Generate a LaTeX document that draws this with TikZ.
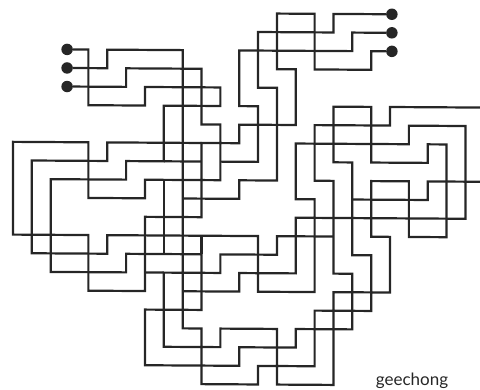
\documentclass[tikz,border=0pt]{standalone}
\usepackage{fontspec}
\setsansfont{Lato}
\begin{document}
\begin{tikzpicture}[
  % Grid of the wires, very slightly tilted like the scan
  x={(18.85pt,-0.113pt)}, y={(0pt,-18.55pt)},
  % Wire style
  wire/.style={draw=black!85, line width=2.2pt, line join=miter},
  % Terminal style
  terminal/.style={circle, fill=black!85, inner sep=0pt, minimum size=11.5pt},
  % Signature style
  signature/.style={font=\sffamily\fontsize{17}{17}\selectfont, text=black!85, anchor=base},
]

% Page frame
\useasboundingbox (-13pt,12pt) rectangle (467pt,-378pt);

% Left terminals
\node[terminal] (dotA) at (2.87,2) {};
\node[terminal] (dotB) at (2.87,3) {};
\node[terminal] (dotC) at (2.87,4) {};
% Right terminals
\node[terminal] (dotD) at (20.1,0) {};
\node[terminal] (dotE) at (20.1,1) {};
\node[terminal] (dotF) at (20.1,2) {};
% Free ends at the right border
\coordinate (exitA) at (24.8,5);
\coordinate (exitB) at (24.8,9);
% Ends that run into another wire
\coordinate (teeD) at (9,10);
\coordinate (teeE) at (11,8);
\coordinate (teeG) at (9,15);
\coordinate (teeH) at (18,10);

% --- Wire from the first left terminal ---
\draw[wire] (dotA) -- (4,2) -- (4,5) -- (7,5) -- (7,4) -- (11,4) -- (11,5) -- (8,5)
  -- (8,8) -- (6,8) -- (6,9) -- (2,9) -- (2,14) -- (6,14) -- (6,13) -- (10,13)
  -- (10,16) -- (7,16) -- (7,19) -- (12,19) -- (12,18) -- (15,18) -- (15,17)
  -- (18,17) -- (18,14) -- (17,14) -- (17,9) -- (16,9) -- (16,6) -- (20,6)
  -- (20,5) -- (exitA);

% --- Wire from the second left terminal ---
\draw[wire] (dotB) -- (5,3) -- (5,2) -- (9,2) -- (9,17) -- (10,17) -- (10,20)
  -- (13,20) -- (13,19) -- (16,19) -- (16,16) -- (19,16) -- (19,13) -- (18,13)
  -- (18,8) -- (17,8) -- (17,5) -- (19,5) -- (19,8) -- (22,8) -- (22,7) -- (23,7)
  -- (23,12) -- (21,12) -- (21,9) -- (19,9) -- (19,12) -- (20,12) -- (20,15)
  -- (17,15) -- (17,20) -- (14,20) -- (14,17) -- (11,17) -- (11,18) -- (8,18)
  -- (8,14) -- (11,14) -- (11,13) -- (14,13) -- (14,12) -- (17,12);

% --- Wire between the third left terminal and the third right terminal ---
\draw[wire] (dotC) -- (6,4) -- (6,3) -- (10,3) -- (10,6) -- (11,6) -- (11,9) -- (7,9)
  -- (7,10) -- (4,10) -- (4,7) -- (0,7) -- (0,12) -- (4,12) -- (4,15) -- (7,15)
  -- (7,11) -- (10,11) -- (10,7) -- (12,7) -- (12,6) -- (15,6) -- (15,3) -- (14,3)
  -- (14,0) -- (16,0) -- (16,3) -- (19,3) -- (19,2) -- (dotF);

% --- Wires from the other right terminals ---
\draw[wire] (dotD) -- (17,0) -- (17,1) -- (13,1) -- (13,4) -- (14,4) -- (14,9)
  -- (12,9) -- (12,10) -- (teeD);
\draw[wire] (dotE) -- (18,1) -- (18,2) -- (12,2) -- (12,5) -- (13,5) -- (13,8) -- (teeE);

% --- Long wire through the middle ---
\draw[wire] (teeG) -- (12,15) -- (12,14) -- (15,14) -- (15,11) -- (24,11) -- (24,6)
  -- (21,6) -- (21,7) -- (15,7) -- (15,10) -- (16,10) -- (16,15) -- (13,15)
  -- (13,12) -- (5,12) -- (5,13) -- (1,13) -- (1,8) -- (5,8) -- (5,7) -- (10,7);

% --- Second free end ---
\draw[wire] (exitB) -- (22,9) -- (22,10) -- (teeH);

% Short pieces
\draw[wire] (8,9) -- (8,13);
\draw[wire] (7,14) -- (8,14);
\draw[wire] (8,8) -- (10,8);
\draw[wire] (10,12) -- (10,13);

% Signature
\node[signature] (sign) at (399pt,-374pt) {geechong};

\end{tikzpicture}
\end{document}
